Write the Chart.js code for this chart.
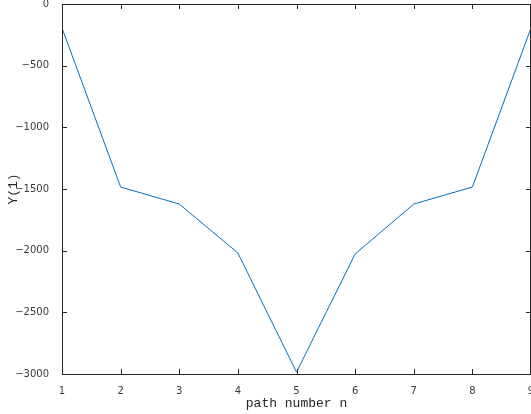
<!DOCTYPE html>
<html>
<head>
<meta charset="utf-8">
<script src="https://cdn.jsdelivr.net/npm/chart.js@4/dist/chart.umd.min.js"></script>
<style>
  html, body { margin: 0; padding: 0; background: #fff; }
  #wrap { width: 531px; height: 414px; }
</style>
</head>
<body>
<div id="wrap"><canvas id="c" width="531" height="414"></canvas></div>
<script>
const pathNumbers = [1, 2, 3, 4, 5, 6, 7, 8, 9];
const yValues = [-195, -1484, -1622, -2019, -2985, -2027, -1622, -1484, -195];
const X_TITLE = "path number n";
const Y_TITLE = "Y(1)";

const AXIS = "#262626";
const LABEL = "#3a3a3a";
const LINE = "#0072BD";

const fmtTick = (v) => (v < 0 ? "\u2212" + Math.abs(v) : String(v));

// MATLAB style inward ticks on all four sides
const inwardTicks = {
  id: "inwardTicks",
  afterDraw(chart) {
    const { ctx, chartArea: a } = chart;
    const xs = chart.scales.x;
    const ys = chart.scales.y;
    const len = 5;
    ctx.save();
    ctx.strokeStyle = AXIS;
    ctx.lineWidth = 1;
    ctx.beginPath();
    xs.ticks.forEach((t) => {
      const px = Math.round(xs.getPixelForValue(t.value)) + 0.5;
      ctx.moveTo(px, a.bottom);
      ctx.lineTo(px, a.bottom - len);
      ctx.moveTo(px, a.top);
      ctx.lineTo(px, a.top + len);
    });
    ys.ticks.forEach((t) => {
      const py = Math.round(ys.getPixelForValue(t.value)) + 0.5;
      ctx.moveTo(a.left, py);
      ctx.lineTo(a.left + len, py);
      ctx.moveTo(a.right, py);
      ctx.lineTo(a.right - len, py);
    });
    ctx.stroke();
    ctx.strokeRect(a.left + 0.5, a.top + 0.5, a.right - a.left - 1, a.bottom - a.top);
    ctx.restore();
  },
};

new Chart(document.getElementById("c"), {
  type: "line",
  data: {
    labels: pathNumbers,
    datasets: [
      {
        data: pathNumbers.map((n, i) => ({ x: n, y: yValues[i] })),
        borderColor: LINE,
        borderWidth: 1,
        pointRadius: 0,
        tension: 0,
        fill: false,
      },
    ],
  },
  options: {
    responsive: false,
    animation: false,
    layout: { padding: { top: 4, right: 0, left: 0, bottom: 0 } },
    plugins: { legend: { display: false }, tooltip: { enabled: false } },
    scales: {
      x: {
        type: "linear",
        min: 1,
        max: 9,
        grid: { display: false },
        border: { display: false },
        ticks: {
          stepSize: 1,
          color: LABEL,
          padding: 3,
          font: { family: "DejaVu Sans", size: 10 },
        },
        title: {
          display: true,
          text: X_TITLE,
          color: AXIS,
          padding: { top: 0, bottom: 3 },
          font: { family: "Liberation Mono", size: 13 },
        },
        afterFit: (s) => {
          s.height = 40;
          s.paddingLeft = 0;
          s.paddingRight = 0;
        },
      },
      y: {
        min: -3000,
        max: 0,
        grid: { display: false },
        border: { display: false },
        ticks: {
          stepSize: 500,
          color: LABEL,
          padding: 5,
          font: { family: "DejaVu Sans", size: 10 },
          callback: (v) => fmtTick(v),
        },
        title: {
          display: true,
          text: Y_TITLE,
          color: AXIS,
          padding: { top: 6, bottom: 0 },
          font: { family: "Liberation Mono", size: 13 },
        },
        afterFit: (s) => {
          s.width = 62;
          s.paddingTop = 0;
          s.paddingBottom = 0;
        },
      },
    },
  },
  plugins: [inwardTicks],
});
</script>
</body>
</html>
